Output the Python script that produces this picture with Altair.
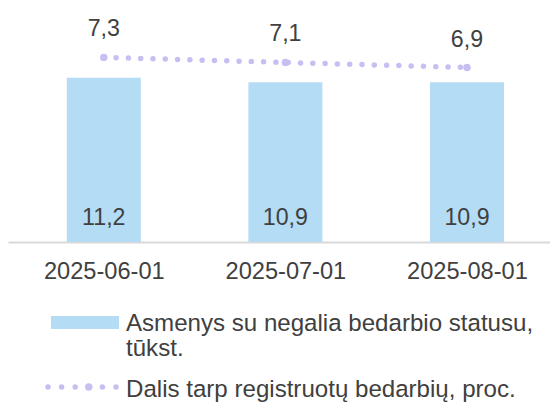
import json
import altair as alt
import pandas as pd

# ---- data ----
dates = ["2025-06-01", "2025-07-01", "2025-08-01"]
persons = [11.2, 10.9, 10.9]          # Asmenys su negalia bedarbio statusu, tūkst.
share = [7.3, 7.1, 6.9]               # Dalis tarp registruotų bedarbių, proc.
legend_bar_lines = ["Asmenys su negalia bedarbio statusu,", "tūkst."]
legend_line_label = "Dalis tarp registruotų bedarbių, proc."

def lt(v):
    return f"{v:.1f}".replace(".", ",")

df = pd.DataFrame({
    "idx": list(range(len(dates))),
    "date": dates,
    "persons": persons,
    "share": share,
    "persons_lbl": [lt(v) for v in persons],
    "share_lbl": [lt(v) for v in share],
})
one = pd.DataFrame({"k": [0]})

FONT = "Liberation Sans"
TXT = "#404040"
BAR = "#B4DCF4"
LINE = "#C8BEF2"
FS = 23.2
FS_AX = 23.6
FS_LEG = 24.1

W = 542
STEP = 185.0  # pixel spacing between categories (plot runs past the right edge)

x = alt.X(
    "idx:Q",
    scale=alt.Scale(domain=[-0.5, -0.5 + W / STEP], nice=False, zero=False),
    axis=alt.Axis(
        title=None, values=list(range(len(dates))),
        labelExpr=f"{json.dumps(dates)}[datum.value]",
        labelAngle=0, labelFontSize=FS_AX, labelFont=FONT,
        labelColor=TXT, labelBaseline="middle", labelPadding=29,
        labelFlush=False, labelOverlap=False,
        ticks=False, tickSize=0, domainColor="#D9D9D9", domainWidth=2,
        grid=False,
    ),
)

base = alt.Chart(df)

bars = base.mark_bar(color=BAR, size=74).encode(
    x=x,
    y=alt.Y("persons:Q", scale=alt.Scale(domain=[0, 15], nice=False), axis=None),
)
bar_labels = base.mark_text(
    dy=-24, baseline="middle", fontSize=FS, font=FONT, color=TXT
).encode(x=x, y=alt.datum(0), text="persons_lbl:N")
bar_layer = alt.layer(bars, bar_labels)

y2 = alt.Y("share:Q", scale=alt.Scale(domain=[0, 8.7], nice=False), axis=None)
line = base.mark_line(
    color=LINE, strokeWidth=5.5, strokeDash=[0, 12.3], strokeCap="round"
).encode(x=x, y=y2)
points = base.mark_point(filled=True, size=55, color=LINE, opacity=1).encode(x=x, y=y2)
line_labels = base.mark_text(
    dy=-28, baseline="middle", fontSize=FS, font=FONT, color=TXT
).encode(x=x, y=y2, text="share_lbl:N")
line_layer = alt.layer(line, points, line_labels)

# ---- legend ----
leg = alt.Chart(one)
leg_rect = leg.mark_rect(color=BAR).encode(
    x=alt.value(43), x2=alt.value(111), y=alt.value(294), y2=alt.value(307)
)
leg_t1 = leg.mark_text(align="left", baseline="middle", fontSize=FS_LEG, font=FONT, color=TXT).encode(
    x=alt.value(118), y=alt.value(301.5), text=alt.value(legend_bar_lines[0])
)
leg_t2 = leg.mark_text(align="left", baseline="middle", fontSize=FS_LEG, font=FONT, color=TXT).encode(
    x=alt.value(118), y=alt.value(326.5), text=alt.value(legend_bar_lines[1])
)
leg_dots = leg.mark_rule(
    color=LINE, strokeWidth=5.5, strokeDash=[0, 13.6], strokeCap="round"
).encode(x=alt.value(40), x2=alt.value(108.5), y=alt.value(365))
leg_pt = leg.mark_point(filled=True, size=55, color=LINE, opacity=1).encode(
    x=alt.value(80.8), y=alt.value(365)
)
leg_t3 = leg.mark_text(align="left", baseline="middle", fontSize=FS_LEG, font=FONT, color=TXT).encode(
    x=alt.value(118), y=alt.value(367.5), text=alt.value(legend_line_label)
)

chart = alt.layer(
    bar_layer, line_layer, leg_rect, leg_t1, leg_t2, leg_dots, leg_pt, leg_t3
).resolve_scale(y="independent").properties(
    width=W,
    height=220,
    autosize=alt.AutoSizeParams(type="none"),
    padding={"left": 0, "top": 14, "right": 0, "bottom": 161},
).configure_view(stroke=None)

chart.save("out.html", embed_options={"renderer": "svg", "actions": False})
